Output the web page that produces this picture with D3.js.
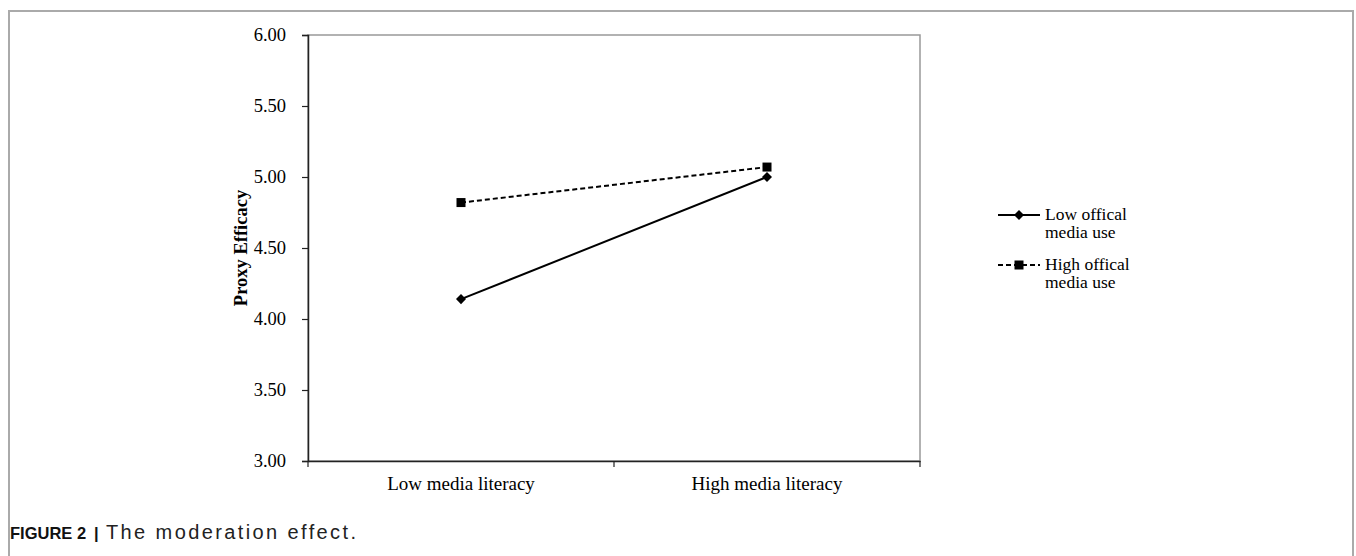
<!DOCTYPE html>
<html><head><meta charset="utf-8">
<script src="https://cdn.jsdelivr.net/npm/d3@7"></script>
<style>body{margin:0;background:#fff}svg{display:block}</style>
</head><body>
<svg id="c" width="1356" height="556"></svg>
<script>
const categories = ["Low media literacy", "High media literacy"];
const seriesNames = ["Low offical media use", "High offical media use"];
const lowOfficial = [4.14, 5.00];
const highOfficial = [4.82, 5.07];
const yTicks = [3.00, 3.50, 4.00, 4.50, 5.00, 5.50, 6.00];

const svg = d3.select("#c");
// outer frame
svg.append("path").attr("d","M9,556 V11 H1353 V556").attr("fill","none").attr("stroke","#aaa").attr("stroke-width",2);

const L=308, R=920, T=35, B=461;
const x = d3.scaleBand().domain(categories).range([L,R]);
const y = d3.scaleLinear().domain([3,6]).range([B,T]);

// plot border (gray)
svg.append("rect").attr("x",L).attr("y",T).attr("width",R-L).attr("height",B-T)
  .attr("fill","none").attr("stroke","#999").attr("stroke-width",1.5);

// y axis
const ya = svg.append("g").attr("transform",`translate(${L},0)`)
  .call(d3.axisLeft(y).tickValues(yTicks).tickFormat(d3.format(".2f")).tickSize(6).tickPadding(16));
ya.attr("font-family","Liberation Serif").attr("font-size",18.5);
ya.select(".domain").attr("stroke","#222").attr("stroke-width",1.5);
ya.selectAll(".tick line").attr("stroke","#222").attr("stroke-width",1.2);
ya.selectAll("text").attr("fill","#000");

// x axis
const xa = svg.append("g").attr("transform",`translate(0,${B})`)
  .call(d3.axisBottom(x).tickSize(0).tickPadding(16));
xa.attr("font-family","Liberation Serif").attr("font-size",19);
xa.select(".domain").attr("stroke","#222").attr("stroke-width",1.5);
xa.selectAll("text").attr("fill","#000");
// boundary ticks
const bounds = [L, L+x.step(), R];
svg.append("g").selectAll("line").data(bounds).join("line")
  .attr("x1",d=>d).attr("x2",d=>d).attr("y1",B).attr("y2",B+6)
  .attr("stroke","#222").attr("stroke-width",1.2);

const cx = d => x(d)+x.bandwidth()/2;
const line = d3.line().x((d,i)=>cx(categories[i])).y(d=>y(d));
const diamond = d3.symbol(d3.symbolDiamond2 ? d3.symbolDiamond2 : d3.symbolDiamond, 64);

// low official (solid, diamonds)
svg.append("path").datum(lowOfficial).attr("d",line).attr("fill","none").attr("stroke","#000").attr("stroke-width",2);
svg.append("g").selectAll("path").data(lowOfficial).join("path")
  .attr("d",diamond)
  .attr("transform",(d,i)=>`translate(${cx(categories[i])},${y(d)})`).attr("fill","#000");

// high official (dashed, squares)
svg.append("path").datum(highOfficial).attr("d",line).attr("fill","none").attr("stroke","#000").attr("stroke-width",2).attr("stroke-dasharray","5,3");
svg.append("g").selectAll("rect").data(highOfficial).join("rect")
  .attr("x",(d,i)=>cx(categories[i])-4.5).attr("y",d=>y(d)-4.5).attr("width",9).attr("height",9).attr("fill","#000");

// y label
svg.append("text").attr("transform",`translate(247,${(T+B)/2}) rotate(-90)`).attr("text-anchor","middle")
  .attr("font-family","Liberation Serif").attr("font-weight","bold").attr("font-size",18.5).text("Proxy Efficacy");

// legend
const lg = svg.append("g");
const items = [{y:215, dash:null, sym:"diamond"},{y:265, dash:"5,3", sym:"square"}];
items.forEach((it,i)=>{
  lg.append("line").attr("x1",998).attr("x2",1040).attr("y1",it.y).attr("y2",it.y)
    .attr("stroke","#000").attr("stroke-width",2).attr("stroke-dasharray",it.dash);
  if(it.sym==="diamond"){
    lg.append("path").attr("d",diamond).attr("transform",`translate(1019,${it.y})`);
  } else {
    lg.append("rect").attr("x",1014.5).attr("y",it.y-4.5).attr("width",9).attr("height",9);
  }
  const words = seriesNames[i].split(" ");
  const t = lg.append("text").attr("font-family","Liberation Serif").attr("font-size",17.5).attr("x",1045).attr("y",it.y+5);
  t.append("tspan").attr("x",1045).attr("dy",0).text(words.slice(0,2).join(" "));
  t.append("tspan").attr("x",1045).attr("dy",18).text(words.slice(2).join(" "));
});

// caption
const capFont = "Liberation Sans";
svg.append("text").attr("x",10).attr("y",539).attr("font-family",capFont).attr("font-size",16.5).attr("font-weight","bold").attr("fill","#111").text("FIGURE 2");
svg.append("text").attr("x",94).attr("y",539).attr("font-family",capFont).attr("font-size",16.5).attr("font-weight","bold").attr("fill","#111").text("|");
svg.append("text").attr("x",106).attr("y",539).attr("font-family",capFont).attr("font-size",20).attr("fill","#222")
  .attr("textLength",250).attr("lengthAdjust","spacing").text("The moderation effect.");
</script>
</body></html>
